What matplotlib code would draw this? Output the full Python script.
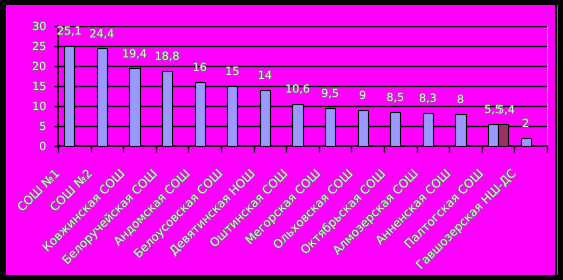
import matplotlib
matplotlib.use("Agg")
import matplotlib.pyplot as plt
import matplotlib.patheffects as pe
from matplotlib.patches import Rectangle
from matplotlib.transforms import blended_transform_factory, offset_copy
import numpy as np

categories = ["СОШ №1", "СОШ №2", "Ковжинская СОШ", "Белоручейская СОШ",
              "Андомская СОШ", "Белоусовская СОШ", "Девятинская НОШ",
              "Оштинская СОШ", "Мегорская СОШ", "Ольховская СОШ",
              "Октябрьская СОШ", "Алмозерская СОШ", "Анненская СОШ",
              "Палтогская СОШ", "Гавшозерская НШ-ДС"]
series1 = [25.1, 24.4, 19.4, 18.8, 16, 15, 14, 10.6, 9.5, 9, 8.5, 8.3, 8, 5.5, 2]
series2 = [None] * 13 + [5.4, None]
yticks = [0, 5, 10, 15, 20, 25, 30]

def fmt(v):
    s = ("%g" % v).replace(".", ",")
    return s

fig = plt.figure(figsize=(5.63, 2.80), dpi=100, facecolor="black")
fig.add_artist(Rectangle((6 / 563, 5 / 280), 549 / 563, 270 / 280,
                         transform=fig.transFigure, facecolor="#FF00FF",
                         edgecolor="none", zorder=-10))
fig.add_artist(Rectangle((556.5 / 563, 5 / 280), 1.2 / 563, 270 / 280,
                         transform=fig.transFigure, facecolor="#FF00FF",
                         edgecolor="none", zorder=-10))

ax = fig.add_axes([58 / 563, 134 / 280, 489 / 563, 120 / 280])
ax.set_facecolor("none")
ax.set_zorder(1)

x = np.arange(len(categories))
w = 0.31
txt_color = "#EEEEEE"
stroke = [pe.withStroke(linewidth=1.0, foreground="#707070")]

ax.bar(x - w / 2, series1, width=w, color="#9999FF", edgecolor="black",
       linewidth=0.8, zorder=3)
s2x = [xi + w / 2 for xi, v in zip(x, series2) if v is not None]
s2v = [v for v in series2 if v is not None]
ax.bar(s2x, s2v, width=w, color="#993366", edgecolor="black", linewidth=0.8,
       zorder=3)

for xi, v in zip(x, series1):
    ax.annotate(fmt(v), (xi - w / 2, v), xytext=(0, 6.5), textcoords="offset points",
                ha="center", va="bottom", fontsize=8, color=txt_color,
                path_effects=stroke, zorder=5)
for xi, v in zip(s2x, s2v):
    ax.annotate(fmt(v), (xi, v), xytext=(2, 6.5), textcoords="offset points",
                ha="center", va="bottom", fontsize=8, color=txt_color,
                path_effects=stroke, zorder=5)

ax.set_xlim(-0.5, len(categories) - 0.5)
ax.set_ylim(0, 30)
ax.set_yticks(yticks)
ax.set_yticklabels([str(t) for t in yticks], fontsize=8, color=txt_color)
for t in ax.get_yticklabels():
    t.set_path_effects(stroke)
ax.yaxis.grid(True, color="black", linewidth=1.0, zorder=1)
ax.set_axisbelow(True)
ax.tick_params(axis="y", length=3, width=1, color="black", pad=5.5)

ax.set_xticks(np.arange(-0.5, len(categories), 1.0))
ax.set_xticklabels([])
ax.tick_params(axis="x", length=4, width=1, color="black")

for s in ["left", "bottom"]:
    ax.spines[s].set_color("black")
    ax.spines[s].set_linewidth(1.2)
ax.spines["top"].set_visible(False)
ax.spines["right"].set_color("#999999")
ax.spines["right"].set_linewidth(0.8)

trans = blended_transform_factory(ax.transData, ax.transAxes)
trans = offset_copy(trans, fig=fig, x=-12, y=-18.5, units="points")
for xi, lab in zip(x, categories):
    ax.text(xi, 0, lab, transform=trans, rotation=45, rotation_mode="anchor",
            ha="right", va="center", fontsize=8.5, color=txt_color,
            path_effects=stroke)

fig.savefig("out.png", dpi=100, facecolor="black")
